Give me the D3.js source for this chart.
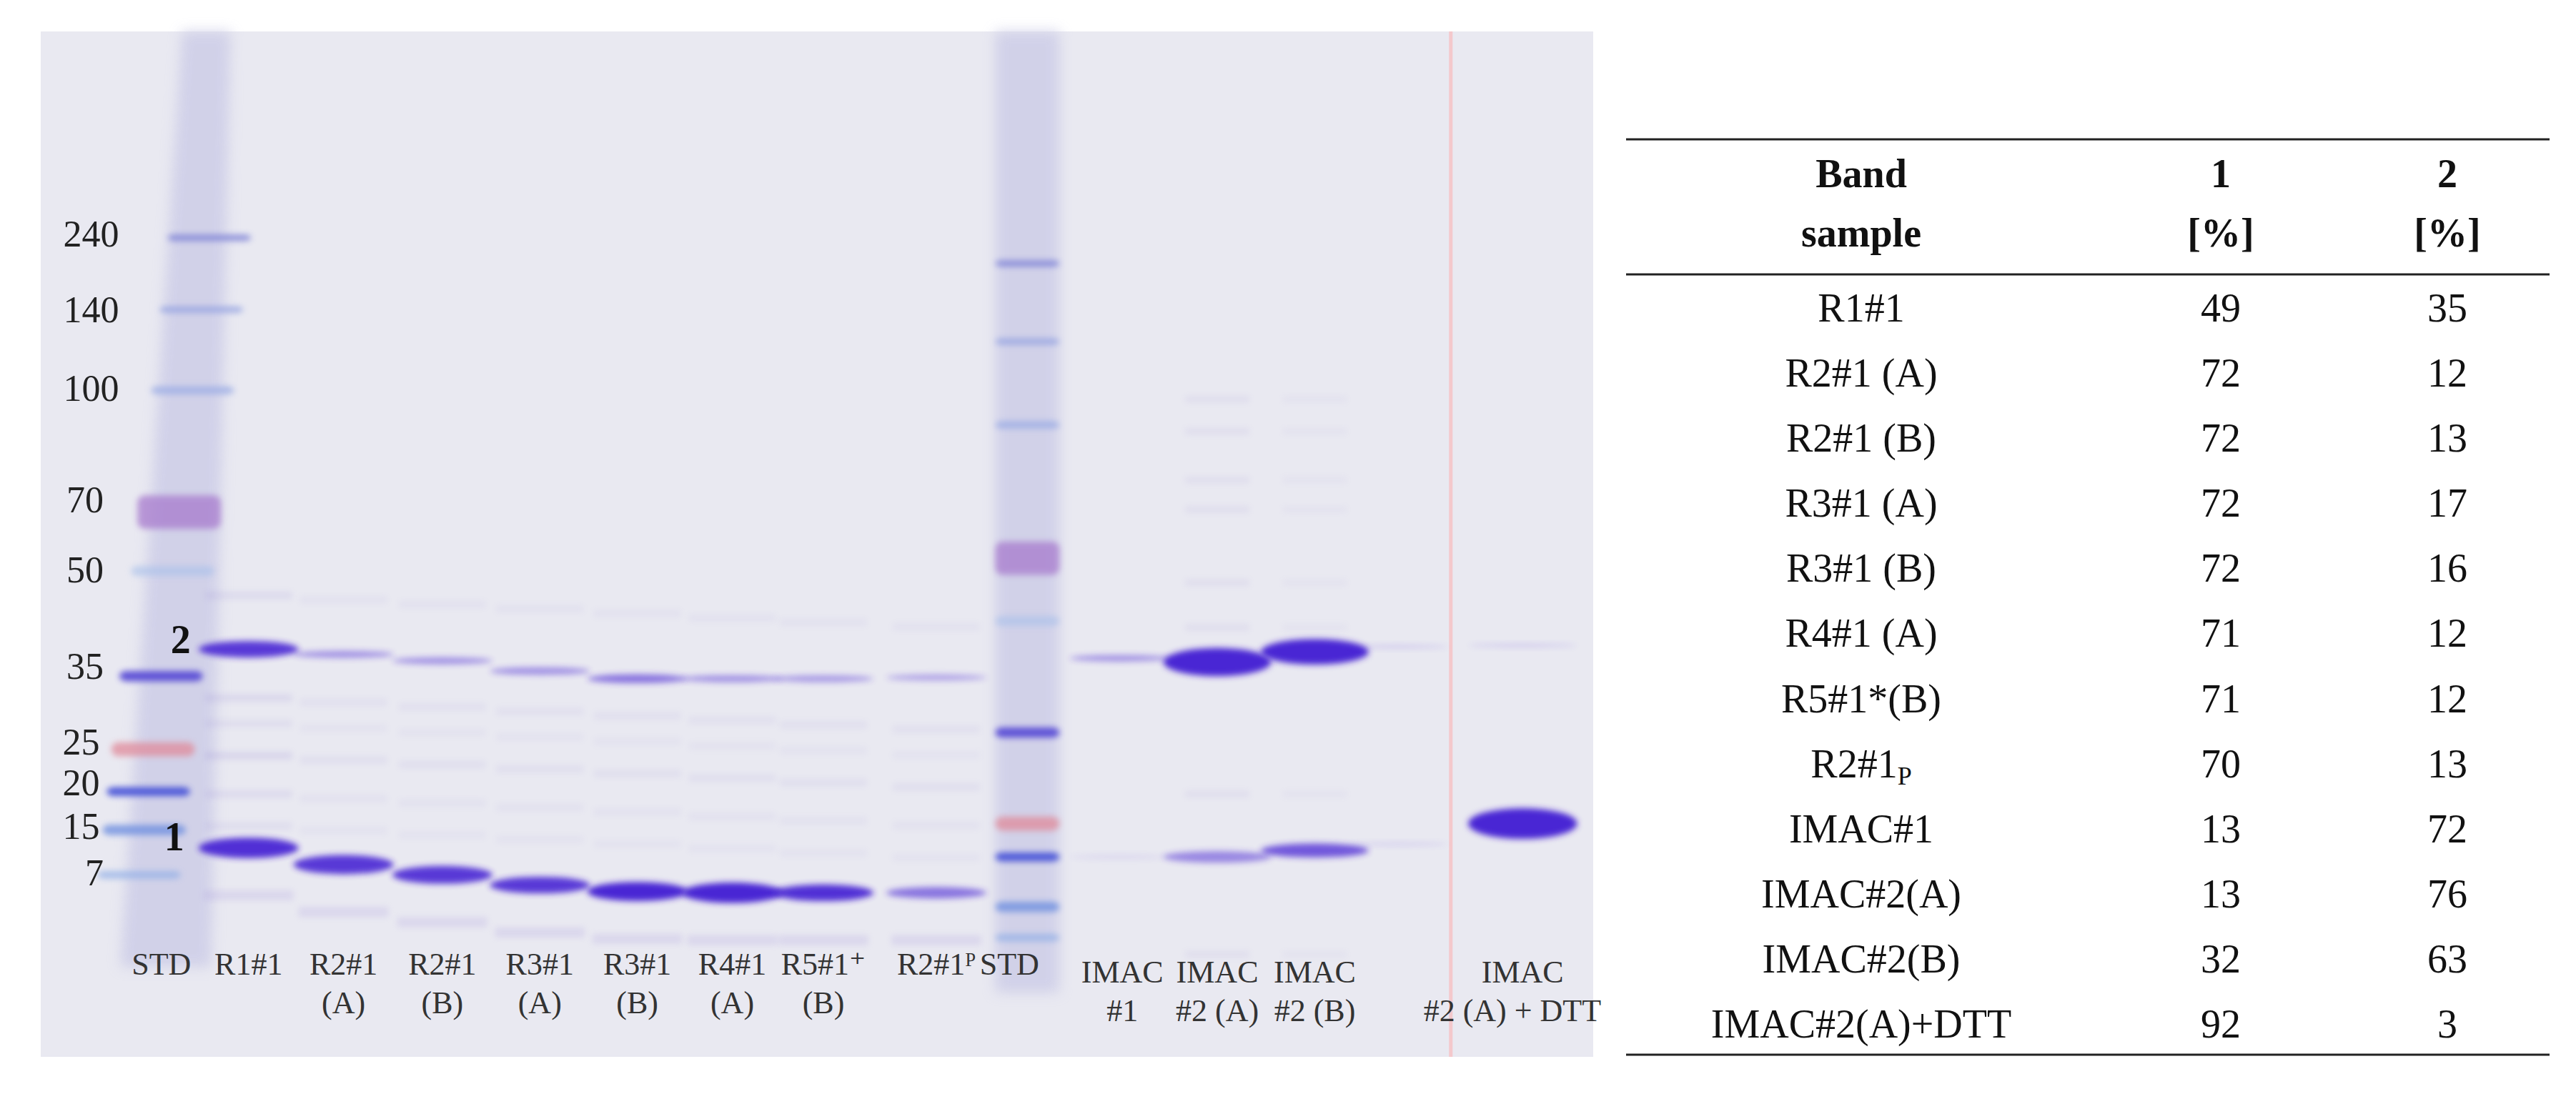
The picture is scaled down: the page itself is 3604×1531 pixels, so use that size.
<!DOCTYPE html>
<html><head><meta charset="utf-8">
<script src="https://cdn.jsdelivr.net/npm/d3@7"></script>
<style>body{margin:0;background:#fff}</style></head>
<body><svg id="c" width="3604" height="1531"></svg>
<script>
// ---- data ----
const laneNames = ["STD","R1#1","R2#1 (A)","R2#1 (B)","R3#1 (A)","R3#1 (B)","R4#1 (A)","R5#1* (B)","R2#1P","STD2","IMAC #1","IMAC #2 (A)","IMAC #2 (B)","blank","IMAC #2 (A) + DTT"];
const lanePos = [10.2,16.2,23.6,31.3,38.9,46.5,53.9,61.0,69.8,76.9,84.1,91.7,99.3,105.8,115.5]; // mm from gel left
const laneLabel1 = ["STD","R1#1","R2#1","R2#1","R3#1","R3#1","R4#1","R5#1⁺","R2#1ᴾ","STD","IMAC","IMAC","IMAC","","IMAC"];
const laneLabel2 = ["","","(A)","(B)","(A)","(B)","(A)","(B)","","","#1","#2 (A)","#2 (B)","","#2 (A) + DTT"];
const mwLabels = ["240","140","100","70","50","35","25","20","15","7"];
const mwLabelPos = [16.8,22.7,28.8,37.5,43.0,50.5,56.4,59.6,63.0,66.6]; // mm (baseline)
const mwLabelRight = [6.1,6.1,6.1,4.9,4.9,4.9,4.6,4.6,4.6,4.9];
const std1Mig = [16.1,21.7,28.0,37.5,42.1,50.3,56.0,59.3,62.3,65.8];
const std2Mig = [18.1,24.2,30.7,41.1,46.0,54.7,61.8,64.4,68.3,70.7];
const stdColor = ["#7c80d6","#8c9ce0","#95a8e4","#a77acd","#a8c0ea","#5a4ed6","#e08a9a","#4a55d8","#7090e0","#90aee6"];
const stdThick = [0.5,0.5,0.6,2.6,0.8,0.8,1.1,0.7,0.8,0.6];
const stdAlpha = [0.8,0.7,0.7,0.75,0.6,0.95,0.75,0.95,0.8,0.7];
const band2Mig = [null,48.2,48.6,49.1,49.9,50.5,50.5,50.5,50.4,null,48.9,49.2,48.4,48.0,47.9];
const band2Int = [0,0.9,0.45,0.45,0.45,0.6,0.45,0.4,0.35,0,0.45,1,1,0.15,0.15];
const band2H   = [0,1.3,0.55,0.55,0.6,0.7,0.55,0.55,0.5,0,0.5,2.2,2.0,0.3,0.3];
const band1Mig = [null,63.7,65.0,65.8,66.6,67.1,67.2,67.2,67.2,null,64.4,64.4,63.9,63.4,61.8];
const band1Int = [0,0.95,0.9,0.9,0.9,1,1,0.95,0.6,0,0.08,0.5,0.75,0.12,1];
const band1H   = [0,1.6,1.5,1.4,1.3,1.5,1.6,1.3,0.9,0,0.4,0.9,1.1,0.3,2.4];
const minorMig = [44.0,52.0,54.0,56.5,59.5,62.0];
const minorInt = [0.06,0.07,0.05,0.08,0.06,0.05];
const imacMinor = [28.7,31.2,35.0,37.3,43.0,46.5,59.5,72.0];
const tableHead = [["Band","sample"],["1","[%]"],["2","[%]"]];
const tableSamples = ["R1#1","R2#1 (A)","R2#1 (B)","R3#1 (A)","R3#1 (B)","R4#1 (A)","R5#1*(B)","R2#1P","IMAC#1","IMAC#2(A)","IMAC#2(B)","IMAC#2(A)+DTT"];
const tableBand1 = [49,72,72,72,72,71,71,70,13,13,32,92];
const tableBand2 = [35,12,13,17,16,12,12,13,72,76,63,3];

// ---- drawing ----
const svg = d3.select("#c");
const x = d3.scaleLinear().domain([0,121]).range([57,2229]);
const y = d3.scaleLinear().domain([0,80]).range([44,1479]);
const defs = svg.append("defs");
defs.append("filter").attr("id","blur").attr("x","-20%").attr("y","-100%").attr("width","140%").attr("height","300%")
  .append("feGaussianBlur").attr("stdDeviation","4");
defs.append("filter").attr("id","blur2").attr("x","-20%").attr("y","-100%").attr("width","140%").attr("height","300%")
  .append("feGaussianBlur").attr("stdDeviation","9");
const g = svg.append("g");
g.append("rect").attr("x",x(0)).attr("y",y(0)).attr("width",x(121)-x(0)).attr("height",y(80)-y(0)).attr("fill","#e9e9f1");
g.append("line").attr("x1",x(109.9)).attr("x2",x(109.9)).attr("y1",y(0)).attr("y2",y(80)).attr("stroke","#f4c8cc").attr("stroke-width",5);
// STD lane smears
g.append("path").attr("d",`M${x(11)},${y(0)} L${x(14.8)},${y(0)} L${x(13.3)},${y(73)} L${x(6.2)},${y(73)} Z`)
  .attr("fill","#cfcfe8").attr("filter","url(#blur2)").attr("opacity",0.9);
g.append("rect").attr("x",x(74.4)).attr("y",y(0)).attr("width",x(79.4)-x(74.4)).attr("height",y(75)-y(0))
  .attr("fill","#cfcfe8").attr("filter","url(#blur2)").attr("opacity",0.9);
std1Mig.forEach((m,i)=>{
  const shift = (m-16)*0.11;
  g.append("rect").attr("x",x(lanePos[0]-2.5-shift+2.2)).attr("y",y(m-stdThick[i]/2)).attr("width",x(6.5)-x(0))
   .attr("height",y(stdThick[i])-y(0)).attr("rx",10).attr("fill",stdColor[i]).attr("opacity",stdAlpha[i]).attr("filter","url(#blur)");
});
std2Mig.forEach((m,i)=>{
  g.append("rect").attr("x",x(lanePos[9]-2.5)).attr("y",y(m-stdThick[i]/2)).attr("width",x(5)-x(0))
   .attr("height",y(stdThick[i])-y(0)).attr("rx",10).attr("fill",stdColor[i]).attr("opacity",stdAlpha[i]).attr("filter","url(#blur)");
});
lanePos.forEach((p,li)=>{
  if(li<1||li>8) return;
  minorMig.forEach((m,k)=>{
    const d = (li-1)*0.35;
    g.append("rect").attr("x",x(p-3.4)).attr("y",y(m+d-0.3)).attr("width",x(6.8)-x(0)).attr("height",y(0.6)-y(0))
     .attr("fill","#7a68c8").attr("opacity",minorInt[k]*(li===1?1.8:1)).attr("filter","url(#blur)");
  });
});
[11,12].forEach(li=>{
  imacMinor.forEach(m=>{
    g.append("rect").attr("x",x(lanePos[li]-2.5)).attr("y",y(m-0.25)).attr("width",x(5)-x(0)).attr("height",y(0.5)-y(0))
     .attr("fill","#8a78c8").attr("opacity",li===11?0.1:0.06).attr("filter","url(#blur)");
  });
});
function band(li,m,h,a,w){
  if(m==null||a===0) return;
  g.append("ellipse").attr("cx",x(lanePos[li])).attr("cy",y(m)).attr("rx",(x(w)-x(0))/2).attr("ry",(y(h)-y(0))/2)
   .attr("fill","#4a26d4").attr("opacity",a).attr("filter","url(#blur)");
}
lanePos.forEach((p,li)=>{
  const w = li>=11&&li<=12 ? 8.4 : (li===14?8.5:7.8);
  band(li,band2Mig[li],band2H[li],band2Int[li],w);
  band(li,band1Mig[li],band1H[li],band1Int[li],w);
});
lanePos.forEach((p,li)=>{
  if(li<1||li>8) return;
  g.append("rect").attr("x",x(p-3.5)).attr("y",y(band1Mig[li]+3.3)).attr("width",x(7)-x(0)).attr("height",y(0.8)-y(0))
   .attr("fill","#9a88d8").attr("opacity",0.18).attr("filter","url(#blur)");
});
const serif = "'Liberation Serif','DejaVu Serif',serif";
g.selectAll(".mw").data(mwLabels).enter().append("text")
  .attr("x",(d,i)=>x(mwLabelRight[i])).attr("y",(d,i)=>y(mwLabelPos[i])).attr("text-anchor","end")
  .attr("font-family",serif).attr("font-size",52).attr("fill","#222").text(d=>d);
g.append("text").attr("x",x(10.9)).attr("y",y(48.5)).attr("text-anchor","middle").attr("font-family",serif).attr("font-weight","bold").attr("font-size",56).attr("fill","#111").text("2");
g.append("text").attr("x",x(10.4)).attr("y",y(63.9)).attr("text-anchor","middle").attr("font-family",serif).attr("font-weight","bold").attr("font-size",56).attr("fill","#111").text("1");
const labAdj = [-0.8,0,0,0,0,0,0,0,0,-1.4,0.2,0,0,0,0];
lanePos.forEach((p,i)=>{
  const dy = i>=10?0.6:0;
  g.append("text").attr("x",x(p+labAdj[i])).attr("y",y(73.6+dy)).attr("text-anchor","middle").attr("font-family",serif)
    .attr("font-size",44).attr("fill","#333").text(laneLabel1[i]);
  g.append("text").attr("x",x(p+labAdj[i]-(i===14?0.8:0))).attr("y",y(76.6+dy)).attr("text-anchor","middle").attr("font-family",serif)
    .attr("font-size",44).attr("fill","#333").text(laneLabel2[i]);
});
// ---- table ----
const colX = [2604,3107,3424];
const t = svg.append("g").attr("font-family",serif).attr("fill","#111");
const ty = d3.scaleLinear().domain([0,11]).range([450,1452]);
[195,384,1476].forEach(yy=>t.append("line").attr("x1",2275).attr("x2",3567).attr("y1",yy).attr("y2",yy).attr("stroke","#222").attr("stroke-width",3));
tableHead.forEach((h,i)=>{
  t.append("text").attr("x",colX[i]).attr("y",262).attr("text-anchor","middle").attr("font-weight","bold").attr("font-size",56).text(h[0]);
  t.append("text").attr("x",colX[i]).attr("y",345).attr("text-anchor","middle").attr("font-weight","bold").attr("font-size",56).text(h[1]);
});
tableSamples.forEach((s,i)=>{
  const tx = t.append("text").attr("x",colX[0]).attr("y",ty(i)).attr("text-anchor","middle").attr("font-size",56);
  if(s==="R2#1P"){ tx.append("tspan").text("R2#1"); tx.append("tspan").attr("font-size",36).attr("dy",10).text("P"); }
  else tx.text(s);
  t.append("text").attr("x",colX[1]).attr("y",ty(i)).attr("text-anchor","middle").attr("font-size",56).text(tableBand1[i]);
  t.append("text").attr("x",colX[2]).attr("y",ty(i)).attr("text-anchor","middle").attr("font-size",56).text(tableBand2[i]);
});
</script></body></html>
